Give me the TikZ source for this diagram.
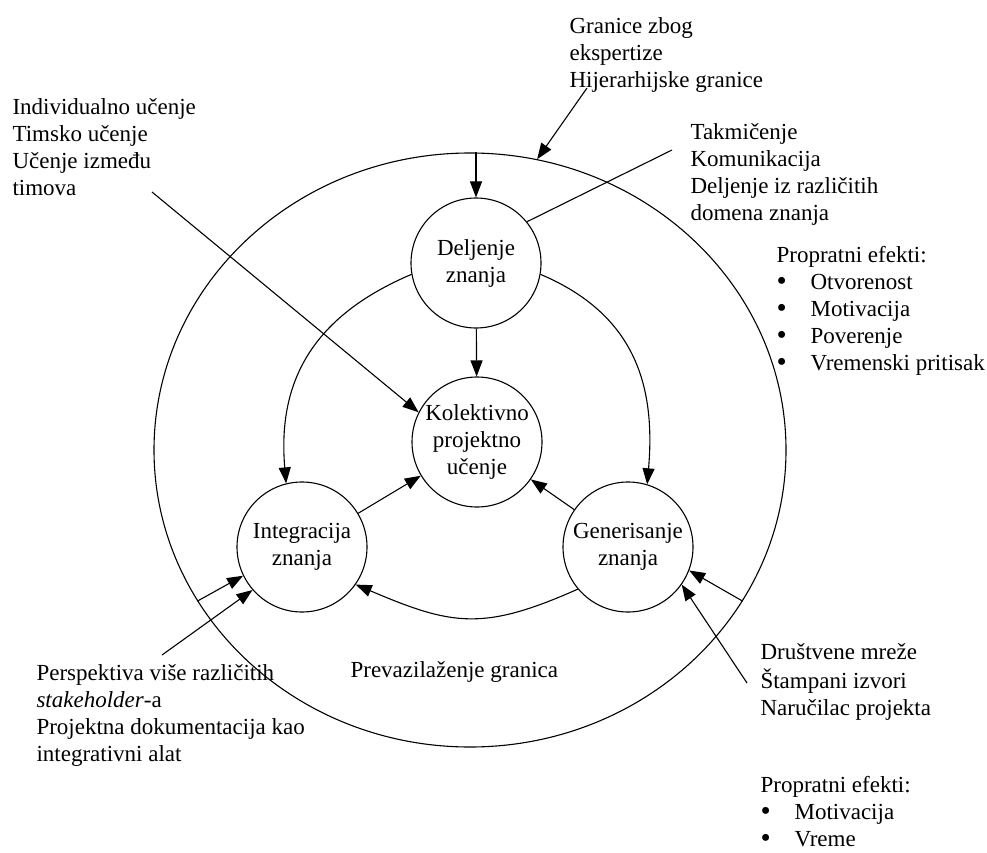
\documentclass[tikz,border=0pt]{standalone}
\usepackage{fontspec}
\setmainfont{Liberation Serif}
\usetikzlibrary{arrows.meta,shapes.geometric}

% list bullet with a fixed indent
\newcommand\bul{\makebox[34pt][l]{\smash{\raisebox{-1pt}{\fontsize{29}{27}\selectfont •}}}}

\begin{document}
\begin{tikzpicture}[x=1pt,y=1pt,line width=1.1pt,
  every node/.style={font=\fontsize{23}{27}\selectfont},
  phase/.style={circle,draw,minimum size=130pt,inner sep=0pt,align=center},
  note/.style={anchor=north west,inner sep=0pt,align=left},
  arr/.style={-{Triangle[length=16pt,width=12pt]}}]
\useasboundingbox (0,0) rectangle (987,-853);

% outer boundary
\node[draw,ellipse,minimum width=632pt,minimum height=594pt,inner sep=0pt] (ell) at (470,-450) {};

% knowledge processes
\node[phase] (del) at (476,-263) {Deljenje\\znanja};
\node[phase] (kol) at (477,-442) {Kolektivno\\projektno\\učenje};
\node[phase] (int) at (302,-547) {Integracija\\znanja};
\node[phase] (gen) at (628,-547) {Generisanje\\znanja};

% annotations
\node[note] (granice) at (569,-14.1) {\strut Granice zbog\\ekspertize\\Hijerarhijske granice};
\node[note] (ucenje) at (12,-95.1) {\strut Individualno učenje\\Timsko učenje\\Učenje između\\timova};
\node[note] (takm) at (690,-120.1) {\strut Takmičenje\\Komunikacija\\Deljenje iz različitih\\domena znanja};
\node[note] (efekti1) at (776,-243.1) {\strut Propratni efekti:\\\bul Otvorenost\\\bul Motivacija\\\bul Poverenje\\\bul Vremenski pritisak};
\node[note] (izvori) at (760,-640.1) {\strut Društvene mreže\\Štampani izvori\\Naručilac projekta};
\node[note] (efekti2) at (760,-773) {\strut Propratni efekti:\\\bul Motivacija\\\bul Vreme};
\node[note] (persp) at (36,-661.1) {\strut Perspektiva više različitih\\\textit{stakeholder}-a\\Projektna dokumentacija kao\\integrativni alat};
\node[note] (preva) at (350,-658.1) {\strut Prevazilaženje granica};

% free ends of the annotation connectors
\coordinate (granEnd) at (587,-88);
\coordinate (takEnd) at (672,-150);
\coordinate (ucEnd) at (152,-192);
\coordinate (perspEnd) at (162,-655);
\coordinate (izvEnd) at (747,-683);

% connectors
\draw[arr] (granEnd) -- (ell.77);
\draw[arr] (del.north |- ell.north) -- (del);
\draw (takEnd) -- (del.39);
\draw[arr] (ucEnd) -- (kol.153);
\draw[arr] (del) -- (kol);
\draw[arr] (int) -- (kol);
\draw[arr] (gen) -- (kol);
\draw[arr] (del.190) to[out=203,in=95,looseness=1.1] (int.104);
\draw[arr] (del.-10) to[out=-23,in=85,looseness=1.1] (gen.73);
\draw[arr] (gen.220) to[out=204,in=-23,looseness=1.2] (int.-35);
\draw[arr] (ell.209) -- (int.206);
\draw[arr] (perspEnd) -- (int.221);
\draw[arr] (ell.-29) -- (gen.-21);
\draw[arr] (izvEnd) -- (gen.-35);
\end{tikzpicture}
\end{document}
